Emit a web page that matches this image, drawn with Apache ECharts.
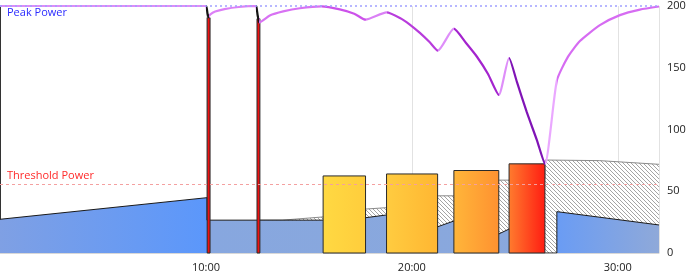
<!DOCTYPE html>
<html><head><meta charset="utf-8">
<script src="https://cdn.jsdelivr.net/npm/echarts@6/dist/echarts.min.js"></script>
<style>html,body{margin:0;padding:0;background:#fff}#c{width:690px;height:279px}</style>
</head><body><div id="c"></div>
<script>
// ---- data (time in minutes, power values) ----
const xTickMinutes = [10, 20, 30];
const yTicks = [0, 50, 100, 150, 200];
const peakPowerLevel = 200;
const thresholdPowerLevel = 56;

const peakTime  = [0, 10.0, 10.04, 10.08, 10.12, 10.2, 10.45, 10.9, 11.6, 12.43, 12.47, 12.51, 12.55, 12.59, 13.1, 13.75, 14.56, 15.62, 16.5, 17.2, 17.75, 18.77, 19.42, 19.9, 20.39, 20.87, 21.26, 22.04, 22.62, 23.16, 23.69, 24.22, 24.72, 25.1, 25.58, 26.07, 26.46, 27.04, 27.57, 28.16, 29.13, 30.1, 31.07, 32];
const peakValue = [200, 200, 198, 193.5, 191, 193, 195.5, 197.5, 199.2, 200, 197.5, 192.5, 189.5, 186.7, 192.3, 195.6, 198.2, 199.7, 197.3, 193.8, 188.9, 194.8, 190.3, 185, 178.2, 170.6, 163.8, 181.6, 170.2, 158.9, 145.1, 128, 157.9, 138.5, 114, 91.4, 72, 139.6, 158.6, 171.6, 184.5, 192.6, 197.1, 199.6];

const blueTime  = [0, 10.05, 10.05, 15.68, 17.76, 18.77, 21.26, 22.04, 24.22, 24.72, 26.47, 27.04, 27.04, 32];
const blueValue = [27.3, 44.8, 26.6, 26.6, 28.6, 30.8, 21.3, 25.9, 15.4, 19.4, 0, 0, 33.5, 22.7];

const grayTime  = [12.6, 13.7, 15.68, 17.76, 18.77, 21.26, 22.04, 24.22, 24.72, 26.46, 26.47, 29.1, 32];
const grayValue = [26.6, 26.6, 29.2, 35.6, 36.7, 46.3, 46.3, 59, 59, 60, 75.3, 74.8, 71.8];

const intervalStart = [15.69, 18.77, 22.04, 24.72];
const intervalEnd   = [17.75, 21.25, 24.22, 26.46];
const intervalPower = [62.4, 64.0, 66.8, 72.2];

const sprintStart = [10.06, 12.48];
const sprintEnd   = [10.2, 12.62];
const sprintPower = [190.5, 189.7];

// ---- styles ----
const intervalColors = [['#ffd942', '#ffcd3c'], ['#ffcc40', '#ffb632'], ['#ffb63a', '#ff9130'], ['#ff7c2e', '#ff1c12']];
const sprintColors = [['#ee1111', '#ee1111'], ['#ee1111', '#ee1111']];
const peakPieces = [
  {lte: 10.02, color: '#de8cf7'},
  {gt: 10.02, lte: 10.15, color: '#141414'},
  {gt: 10.15, lte: 12.44, color: '#dc80f6'},
  {gt: 12.44, lte: 12.57, color: '#141414'},
  {gt: 12.57, lte: 15.62, color: '#d872f3'},
  {gt: 15.62, lte: 17.75, color: '#cc52ea'},
  {gt: 17.75, lte: 18.77, color: '#da80f5'},
  {gt: 18.77, lte: 21.26, color: '#b83cdc'},
  {gt: 21.26, lte: 22.04, color: '#de8ef9'},
  {gt: 22.04, lte: 24.22, color: '#a424ce'},
  {gt: 24.22, lte: 24.72, color: '#de8ef9'},
  {gt: 24.72, lte: 26.46, color: '#8014b6'},
  {gt: 26.46, lte: 27.04, color: '#eaa8ff'},
  {gt: 27.04, color: '#d66cf2'}
];

function zip(a, b) { return a.map((v, i) => [v, b[i]]); }

// hatch pattern
const hatch = document.createElement('canvas');
hatch.width = 4; hatch.height = 4;
(function () {
  const g = hatch.getContext('2d');
  g.fillStyle = '#ffffff'; g.fillRect(0, 0, 4, 4);
  g.strokeStyle = '#a4a4a4'; g.lineWidth = 1;
  g.beginPath();
  g.moveTo(-1, -1); g.lineTo(5, 5);
  g.moveTo(-1, 3); g.lineTo(1, 5);
  g.moveTo(3, -1); g.lineTo(5, 1);
  g.stroke();
})();

const chart = echarts.init(document.getElementById('c'));
const maxT = 32;

function rectItem(colors) {
  return function (params, api) {
    const s = api.coord([api.value(0), 0]);
    const e = api.coord([api.value(1), api.value(2)]);
    const c = colors[params.dataIndex];
    return {
      type: 'rect',
      shape: {x: s[0], y: e[1], width: e[0] - s[0], height: s[1] - e[1]},
      style: {
        fill: new echarts.graphic.LinearGradient(0, 0, 1, 0, [{offset: 0, color: c[0]}, {offset: 1, color: c[1]}]),
        stroke: '#2a2a2a', lineWidth: 1
      }
    };
  };
}

const font = '"Open Sans", "Noto Sans", sans-serif';

chart.setOption({
  animation: false,
  grid: {left: 0, right: 31, top: 6, bottom: 26, containLabel: false, outerBoundsMode: 'none'},
  xAxis: {
    type: 'value', min: 0, max: maxT, interval: 10,
    axisLine: {show: true, lineStyle: {color: '#d8d8d8'}},
    axisTick: {show: false},
    splitLine: {show: true, lineStyle: {color: '#e2e2e2'}},
    axisLabel: {
      color: '#222', fontSize: 11, fontFamily: font, margin: 9,
      formatter: v => (xTickMinutes.indexOf(v) >= 0 ? v + ':00' : '')
    }
  },
  yAxis: [{
    type: 'value', position: 'right', min: 0, max: 200, interval: 50,
    axisLine: {show: true, lineStyle: {color: '#000', width: 2}},
    axisTick: {show: false},
    splitLine: {show: false},
    axisLabel: {color: '#222', fontSize: 11, fontFamily: font, margin: 8,
      formatter: v => (yTicks.indexOf(v) >= 0 ? String(v) : '')}
  }, {
    type: 'value', position: 'left', min: 0, max: 200,
    axisLine: {show: true, lineStyle: {color: '#333', width: 1}},
    axisTick: {show: false}, axisLabel: {show: false}, splitLine: {show: false}
  }],
  visualMap: {type: 'piecewise', show: false, dimension: 0, seriesIndex: 4, pieces: peakPieces},
  series: [
    {
      type: 'line', z: 1, data: zip(grayTime, grayValue), symbol: 'none',
      lineStyle: {color: '#8a8a8a', width: 1},
      areaStyle: {color: {image: hatch, repeat: 'repeat'}, opacity: 1}
    },
    {
      type: 'line', z: 2, data: zip(blueTime, blueValue), symbol: 'none',
      lineStyle: {color: '#1a1a1a', width: 1},
      areaStyle: {
        opacity: 1,
        color: new echarts.graphic.LinearGradient(0, 0, 1, 0, [
          {offset: 0, color: '#7fa0e4'},
          {offset: 10.04 / maxT, color: '#5b97fb'},
          {offset: 10.06 / maxT, color: '#87a7df'},
          {offset: 27.03 / maxT, color: '#8aa8dc'},
          {offset: 27.05 / maxT, color: '#6a9cf4'},
          {offset: 1, color: '#8fa9d9'}
        ])
      },
      markLine: {
        silent: true, symbol: 'none',
        data: [
          {yAxis: peakPowerLevel, lineStyle: {color: '#a0a0ff', type: [2, 3], width: 1.5},
           label: {show: true, position: 'insideStartBottom', formatter: 'Peak Power', color: '#2b2bff', fontSize: 11, fontFamily: font, distance: [7, 1]}},
          {yAxis: thresholdPowerLevel, lineStyle: {color: '#f4a0a0', type: [3, 3], width: 1},
           label: {show: true, position: 'insideStartTop', formatter: 'Threshold Power', color: '#ff2a2a', fontSize: 11, fontFamily: font, distance: [7, 2]}}
        ]
      }
    },
    {
      type: 'custom', z: 3, renderItem: rectItem(intervalColors),
      data: intervalStart.map((s, i) => [s, intervalEnd[i], intervalPower[i]])
    },
    {
      type: 'custom', z: 3, renderItem: rectItem(sprintColors),
      data: sprintStart.map((s, i) => [s, sprintEnd[i], sprintPower[i]])
    },
    {
      type: 'line', z: 4, data: zip(peakTime, peakValue), symbol: 'none', showSymbol: false,
      smooth: 0.2,
      lineStyle: {width: 2.2}
    }
  ]
});
</script></body></html>
